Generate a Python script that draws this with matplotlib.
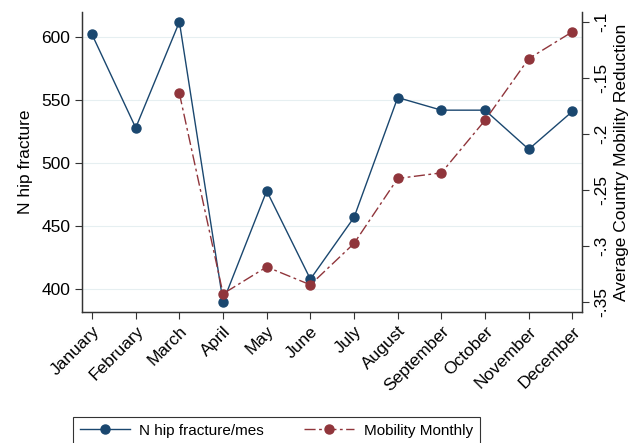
import matplotlib
matplotlib.use("Agg")
import matplotlib.pyplot as plt
import numpy as np

months = ["January", "February", "March", "April", "May", "June", "July",
          "August", "September", "October", "November", "December"]
hip_fracture = [602, 528, 612, 390, 478, 408, 457, 552, 542, 542, 511, 541]
mobility = [np.nan, np.nan, -0.164, -0.343, -0.319, -0.335, -0.298,
            -0.240, -0.235, -0.188, -0.133, -0.109]
left_ticks = [400, 450, 500, 550, 600]
right_ticks = [-0.35, -0.3, -0.25, -0.2, -0.15, -0.1]
right_labels = ["-.35", "-.3", "-.25", "-.2", "-.15", "-.1"]

plt.rcParams['font.family'] = ['Liberation Sans', 'DejaVu Sans']
plt.rcParams['font.size'] = 12.5

blue = "#1a476f"
red = "#90353b"

fig = plt.figure(figsize=(6.3, 4.43), dpi=100)
ax = fig.add_axes([82/630, 1-311.7/443, (582-82)/630, (311.7-12.3)/443])
x = np.arange(len(months))

for y in left_ticks:
    ax.axhline(y, color="#e6eff1", lw=0.8, zorder=0)

l1, = ax.plot(x, hip_fracture, color=blue, lw=1.0, marker="o", ms=6.5,
              label="N hip fracture/mes", zorder=3)
ax.set_ylim(382.2, 619.6)
ax.set_xlim(-0.23, 11.22)
ax.set_yticks(left_ticks)
ax.set_ylabel("N hip fracture", fontsize=12.5, labelpad=6)
ax.set_xticks(x)
ax.set_xticklabels(months, rotation=45, ha="right", rotation_mode="anchor")
ax.tick_params(axis="both", direction="out", length=5, width=0.8, color="#333333")

ax2 = ax.twinx()
l2, = ax2.plot(x, mobility, color=red, lw=1.0, marker="o", ms=6.5,
               dashes=[8, 2.5, 2, 2.5], label="Mobility Monthly", zorder=3)
ax2.set_ylim(-0.359, -0.0916)
ax2.set_yticks(right_ticks)
ax2.set_yticklabels(right_labels, rotation=90, va="center")
ax2.set_ylabel("Average Country Mobility Reduction", fontsize=12.5, labelpad=4)
ax2.tick_params(axis="y", direction="out", length=5, width=0.8, color="#333333")

for a in (ax, ax2):
    a.spines["top"].set_visible(False)
    for s in ("left", "right", "bottom"):
        a.spines[s].set_color("#333333")
        a.spines[s].set_linewidth(0.9)

leg = fig.legend(handles=[l1, l2], loc="upper left",
                 bbox_to_anchor=(73/630, 1-416.7/443), ncol=2,
                 frameon=True, fancybox=False, edgecolor="black",
                 handlelength=3.3, handletextpad=0.6, columnspacing=2.6,
                 borderpad=0.45, borderaxespad=0, fontsize=11)
leg.get_frame().set_linewidth(0.8)

fig.savefig("out.png", dpi=100)
